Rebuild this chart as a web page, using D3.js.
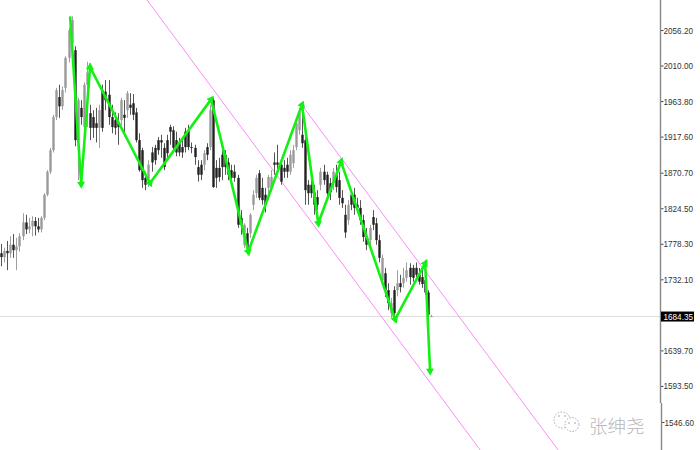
<!DOCTYPE html>
<html><head><meta charset="utf-8">
<script src="https://cdn.jsdelivr.net/npm/d3@7"></script>
<style>html,body{margin:0;padding:0;background:#fff}svg{display:block}</style>
</head><body><svg id="c" width="700" height="450"></svg>
<script>
const tickValues=[2056.20,2010.00,1963.80,1917.60,1870.70,1824.50,1778.30,1732.10,1639.70,1593.50,1546.60];
const lastPrice=1684.35;
const opens=[1766,1761,1769,1766,1777,1770,1775,1788,1806,1797,1801,1808,1801,1797,1812,1842,1872,1900,1943,1969,1957,1981,2020,2039,2030,1913,1955,1930,1985,1948,1943,1935,1929,1978,1976,1972,1943,1939,1935,1939,1946,1952,1959,1961,1949,1913,1900,1864,1861,1897,1903,1913,1913,1903,1913,1930,1926,1913,1909,1904,1924,1926,1904,1903,1878,1881,1881,1904,1904,1965,1877,1877,1894,1894,1884,1874,1872,1864,1812,1777,1792,1792,1829,1844,1870,1851,1842,1851,1851,1884,1884,1881,1877,1881,1872,1883,1904,1926,1920,1913,1855,1855,1845,1839,1855,1872,1868,1857,1859,1868,1861,1838,1816,1809,1842,1842,1829,1825,1809,1787,1783,1813,1805,1783,1731,1740,1718,1688,1718,1718,1727,1727,1734,1747,1747,1747,1738,1735,1731,1715,1684.35];
const closes=[1761,1769,1766,1777,1770,1775,1788,1806,1797,1801,1808,1801,1797,1812,1842,1872,1900,1943,1978,1957,1978,2020,2056,2069,1913,1965,1943,1985,2001,1929,1929,1929,1952,1929,1965,1943,1930,1929,1930,1965,1942,1974,1955,1946,1913,1874,1861,1855,1881,1884,1887,1900,1910,1878,1896,1924,1903,1897,1897,1897,1904,1904,1903,1891,1868,1868,1896,1894,1952,1852,1864,1865,1878,1878,1868,1864,1864,1803,1803,1803,1773,1816,1842,1864,1838,1835,1829,1865,1865,1881,1881,1859,1872,1872,1894,1900,1935,1949,1909,1848,1844,1844,1829,1829,1872,1861,1844,1845,1872,1852,1838,1831,1793,1829,1829,1825,1825,1809,1787,1777,1799,1803,1783,1760,1760,1718,1701,1701,1688,1727,1722,1734,1744,1735,1734,1738,1729,1726,1715,1686,1684.35];
const highs=[1778,1773,1782,1788,1791,1786,1792,1818,1816,1812,1814,1813,1812,1814,1844,1874,1903,1946,1981,1985,1983,2022,2059,2074,2035,1968,1965,1988,2015,1959,1952,1955,1959,1985,1991,1991,1959,1949,1948,1968,1965,1977,1974,1973,1955,1922,1903,1872,1887,1904,1907,1917,1920,1909,1920,1933,1931,1924,1916,1913,1929,1933,1910,1907,1887,1887,1900,1909,1959,1968,1887,1890,1900,1900,1890,1881,1881,1868,1822,1805,1799,1818,1848,1868,1874,1864,1851,1868,1874,1897,1907,1887,1887,1890,1900,1907,1942,1955,1952,1916,1861,1868,1855,1848,1877,1881,1872,1864,1877,1881,1872,1848,1829,1835,1848,1851,1838,1835,1816,1799,1803,1822,1812,1790,1764,1747,1727,1708,1723,1744,1738,1747,1754,1753,1751,1754,1747,1744,1738,1718,1686];
const lows=[1749,1754,1744,1760,1760,1744,1768,1783,1791,1792,1788,1789,1793,1793,1809,1840,1869,1897,1939,1942,1952,1975,2014,2030,1905,1861,1933,1926,1930,1913,1916,1910,1903,1924,1952,1933,1922,1920,1907,1933,1918,1942,1946,1939,1910,1872,1851,1848,1852,1872,1881,1894,1890,1874,1890,1907,1900,1892,1892,1890,1897,1900,1896,1881,1859,1861,1874,1887,1900,1851,1851,1859,1861,1868,1861,1855,1859,1799,1790,1773,1768,1786,1822,1838,1835,1829,1819,1835,1846,1868,1872,1855,1864,1864,1868,1877,1900,1920,1903,1829,1829,1838,1816,1822,1848,1855,1838,1835,1848,1845,1829,1825,1786,1803,1822,1816,1819,1803,1781,1770,1774,1796,1777,1754,1725,1709,1692,1682,1680,1710,1715,1721,1729,1725,1729,1731,1725,1721,1712,1682,1683];
const zigIndex=[22.5,26.1,29,48.5,68.4,80.5,98,103.3,110.7,128.3,138.1,139.7];
const zigPrice=[2074,1856,2008,1857,1966,1768,1959,1805,1885,1680,1753,1613];
const channelIndex=[[47.56,156],[98.4,181.4]];
const channelPrice=[[2095.2,1510.2],[1956.1,1510.2]];
const watermark="张绅尧";

const svg=d3.select("#c");
const x=d3.scaleLinear().domain([0,140]).range([1,431]);
const y=d3.scaleLinear().domain([2056.2,1546.6]).range([30,422]);
const AX_FONT="Liberation Sans", LABEL_W=29.5;

svg.append("line").attr("x1",0).attr("x2",660).attr("y1",y(lastPrice)+.5).attr("y2",y(lastPrice)+.5)
  .attr("stroke","#dcdcdc").attr("stroke-width",1);

const plot=svg.append("g");
channelIndex.forEach((ci,k)=>{
  plot.append("line").attr("x1",x(ci[0])).attr("x2",x(ci[1]))
    .attr("y1",y(channelPrice[k][0])).attr("y2",y(channelPrice[k][1]))
    .attr("stroke","#fb8cfb").attr("stroke-width",1);
});

const bars=plot.append("g").selectAll("g").data(opens.map((o,i)=>i)).join("g");
bars.append("line").attr("x1",i=>Math.round(x(i))+.5).attr("x2",i=>Math.round(x(i))+.5)
  .attr("y1",i=>y(highs[i])).attr("y2",i=>y(lows[i]))
  .attr("stroke",i=>closes[i]<opens[i]?"#555":"#a0a0a0").attr("stroke-width",1);
bars.append("rect").attr("x",i=>Math.round(x(i))-.7).attr("width",2.4)
  .attr("y",i=>y(Math.max(opens[i],closes[i])))
  .attr("height",i=>Math.max(1,Math.abs(y(opens[i])-y(closes[i]))))
  .attr("fill",i=>closes[i]<opens[i]?"#222":"#9a9a9a");

const pts=zigIndex.map((v,i)=>[x(v),y(zigPrice[i])]);
const zig=plot.append("g");
zig.append("path").attr("d",d3.line()(pts)).attr("fill","none")
  .attr("stroke","#14f014").attr("stroke-width",2.6).attr("stroke-linejoin","miter");
pts.slice(1).forEach((p,i)=>{
  const a=pts[i];
  const ang=Math.atan2(p[1]-a[1],p[0]-a[0])*180/Math.PI+90;
  zig.append("path").attr("d",d3.symbol(d3.symbolTriangle,28)())
    .attr("transform",`translate(${p[0]},${p[1]}) rotate(${ang})`).attr("fill","#14f014");
});

const ax=svg.append("g").attr("transform","translate(660.5,0)")
  .call(d3.axisRight(y).tickValues(tickValues).tickFormat(d3.format(".2f")).tickSize(3).tickPadding(0));
ax.select(".domain").remove();
ax.selectAll("line").attr("stroke","#444");
ax.selectAll("text").attr("font-family",AX_FONT).attr("font-size",9.4).attr("fill","#333")
  .attr("textLength",LABEL_W).attr("lengthAdjust","spacingAndGlyphs");
ax.selectAll(".tick").filter(d=>d<1560).attr("transform",d=>`translate(1,${y(d)+.5})`);
svg.append("line").attr("x1",660.5).attr("x2",660.5).attr("y1",0).attr("y2",403)
  .attr("stroke","#888").attr("stroke-width",1.4);
svg.append("line").attr("x1",661.5).attr("x2",661.5).attr("y1",403).attr("y2",450)
  .attr("stroke","#888").attr("stroke-width",1.4);

svg.append("rect").attr("x",661).attr("y",y(lastPrice)-4.5).attr("width",33).attr("height",10).attr("fill","#000");
svg.append("text").attr("x",663.5).attr("y",y(lastPrice)+3.8).text(lastPrice.toFixed(2))
  .attr("font-family",AX_FONT).attr("font-size",9.4).attr("fill","#fff")
  .attr("textLength",LABEL_W).attr("lengthAdjust","spacingAndGlyphs");

const wm=svg.append("g");
wm.append("circle").attr("cx",562).attr("cy",420).attr("r",8).attr("fill","none").attr("stroke","#aaa").attr("stroke-dasharray","1.5 1.5");
wm.append("circle").attr("cx",572).attr("cy",424.5).attr("r",7).attr("fill","#fff").attr("stroke","#aaa").attr("stroke-dasharray","1.5 1.5");
[[559,416],[565,416],[569,423],[575,423]].forEach(d=>wm.append("circle").attr("cx",d[0]).attr("cy",d[1]).attr("r",.8).attr("fill","#999"));
wm.append("text").attr("x",589).attr("y",433).text(watermark)
  .attr("font-family","Noto Sans CJK SC").attr("font-weight",300).attr("font-size",18.5).attr("fill","#b8b8b8");
</script></body></html>
